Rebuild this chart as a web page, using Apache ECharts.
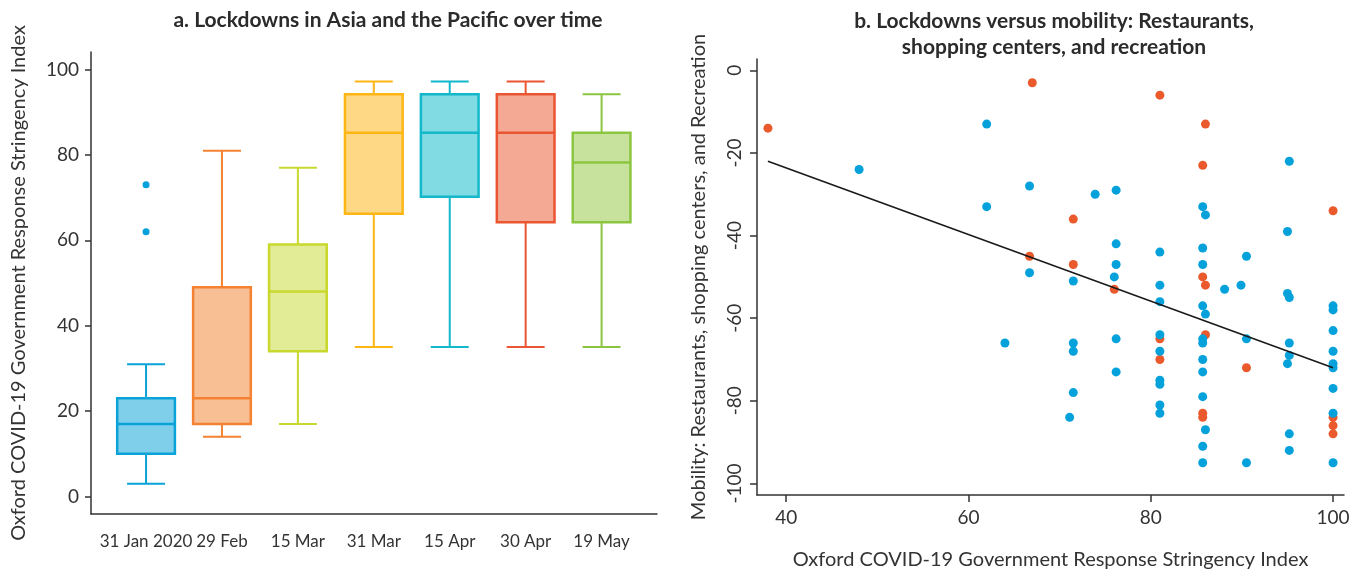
<!DOCTYPE html>
<html lang="en">
<head>
<meta charset="UTF-8">
<title>Lockdowns and mobility</title>
<script src="https://cdn.jsdelivr.net/npm/echarts@6/dist/echarts.min.js"></script>
<style>
  body { margin: 0; background: #fff; }
  #chart { width: 1361px; height: 575px; }
</style>
</head>
<body>
<div id="chart"></div>
<script>
  // panel a: box plot per date
  const dates = ['31 Jan 2020', '29 Feb', '15 Mar', '31 Mar', '15 Apr', '30 Apr', '19 May'];
  const whiskerLow = [3, 14, 17, 35, 35, 35, 35];
  const q1 = [10, 17, 34, 66.2, 70.2, 64.2, 64.2];
  const median = [17, 23, 48, 85.2, 85.2, 85.2, 78.2];
  const q3 = [23, 49, 59, 94.2, 94.2, 94.2, 85.2];
  const whiskerHigh = [31, 81, 77, 97.2, 97.2, 97.2, 94.2];
  const outliers = [[0, 73], [0, 62]];
  const leftTicks = [0, 20, 40, 60, 80, 100];

  // panel b: stringency vs mobility
  const orangePoints = [
    [38, -14], [67, -3], [81, -6], [86, -13], [85.7, -23], [100, -34], [71.5, -36],
    [66.7, -45], [71.5, -47], [76, -53], [85.7, -50], [86, -52], [86, -64], [81, -65],
    [81, -70], [90.5, -72], [85.7, -83], [85.7, -84], [100, -84], [100, -86], [100, -88]
  ];
  const bluePoints = [
    [48, -24], [62, -13], [62, -33], [66.7, -28], [66.7, -49], [64, -66],
    [73.9, -30], [76.2, -29], [76.2, -42], [76.2, -47], [76, -50], [76.2, -65], [76.2, -73],
    [71.5, -51], [71.5, -66], [71.5, -68], [71.5, -78], [71.1, -84],
    [81, -44], [81, -52], [81, -56], [81, -64], [81, -68], [81, -75], [81, -76], [81, -81], [81, -83],
    [85.7, -33], [86, -35], [85.7, -43], [85.7, -47], [85.7, -57], [86, -59], [85.7, -65], [85.7, -66],
    [85.7, -70], [85.7, -73], [85.7, -79], [86, -87], [85.7, -91], [85.7, -95],
    [88.1, -53], [89.9, -52], [90.5, -45], [90.5, -65], [90.5, -95],
    [95.2, -22], [95, -39], [95, -54], [95.2, -55], [95.2, -66], [95.2, -69], [95, -71], [95.2, -88], [95.2, -92],
    [100, -57], [100, -58], [100, -63], [100, -68], [100, -71], [100, -72], [100, -77], [100, -83], [100, -95]
  ];
  const trendLine = [[38, -22], [100, -72]];
  const rightXTicks = [40, 60, 80, 100];
  const rightYTicks = [-100, -80, -60, -40, -20, 0];

  // colours
  const boxFill = ['#80cfea', '#f9bf94', '#e2eb95', '#fed885', '#80dbe3', '#f3a994', '#c7e29d'];
  const boxStroke = ['#0aa3d9', '#f58233', '#c8d82c', '#fdb614', '#13b8cb', '#ea5631', '#8cc540'];
  const blue = '#05a1db';
  const orange = '#ea5a2c';
  const ink = '#333';
  const font = 'Lato';

  const axisLineStyle = { show: true, onZero: false, lineStyle: { color: ink, width: 1.5 } };

  const chart = echarts.init(document.getElementById('chart'));

  function renderBox(params, api) {
    const i = api.value(0);
    const band = api.size([1, 0])[0];
    const half = band * 0.38;
    const cap = band * 0.25;
    const x = api.coord([i, 0])[0];
    const y = k => api.coord([i, api.value(k)])[1];
    const yLow = y(1), yQ1 = y(2), yMed = y(3), yQ3 = y(4), yHigh = y(5);
    const stroke = boxStroke[i];
    const line = (x1, y1, x2, y2) => ({
      type: 'line', shape: { x1, y1, x2, y2 }, style: { stroke, lineWidth: 2 }
    });
    return {
      type: 'group',
      children: [
        line(x, yHigh, x, yQ3),
        line(x, yQ1, x, yLow),
        line(x - cap, yHigh, x + cap, yHigh),
        line(x - cap, yLow, x + cap, yLow),
        {
          type: 'rect',
          shape: { x: x - half, y: yQ3, width: half * 2, height: yQ1 - yQ3 },
          style: { fill: boxFill[i], stroke, lineWidth: 2.5 }
        },
        { type: 'line', shape: { x1: x - half, y1: yMed, x2: x + half, y2: yMed }, style: { stroke, lineWidth: 2.5 } }
      ]
    };
  }

  chart.setOption({
    animation: false,
    textStyle: { fontFamily: font },
    title: [
      {
        text: 'a. Lockdowns in Asia and the Pacific over time',
        left: 383, top: 5, textAlign: 'center',
        textStyle: { fontFamily: font, fontSize: 21, fontWeight: 'bold', color: '#2b2b2b' }
      },
      {
        text: 'b. Lockdowns versus mobility: Restaurants,\nshopping centers, and recreation',
        left: 1049, top: 3, textAlign: 'center',
        textStyle: { fontFamily: font, fontSize: 21, fontWeight: 'bold', color: '#2b2b2b', lineHeight: 26 }
      }
    ],
    grid: [
      { left: 91, top: 52, width: 566, height: 462 },
      { left: 757, top: 59, width: 587, height: 436 }
    ],
    xAxis: [
      {
        gridIndex: 0, type: 'value', min: -0.725, max: 6.73,
        axisLine: axisLineStyle, axisTick: { show: false }, splitLine: { show: false },
        axisLabel: {
          customValues: dates.map((d, i) => i),
          formatter: v => dates[v],
          fontSize: 17, color: ink, margin: 19
        }
      },
      {
        gridIndex: 1, type: 'value', min: 36.8, max: 101.2,
        name: 'Oxford COVID-19 Government Response Stringency Index',
        nameLocation: 'middle', nameGap: 55,
        nameTextStyle: { fontSize: 20, color: ink },
        axisLine: axisLineStyle,
        axisTick: { customValues: rightXTicks, length: 7, lineStyle: { color: ink, width: 1.5 } },
        splitLine: { show: false },
        axisLabel: { customValues: rightXTicks, fontSize: 19, color: ink, margin: 13 }
      }
    ],
    yAxis: [
      {
        gridIndex: 0, type: 'value', min: -4.1, max: 104.1,
        name: 'Oxford COVID-19 Government Response Stringency Index',
        nameLocation: 'middle', nameGap: 62,
        nameTextStyle: { fontSize: 20, color: ink },
        axisLine: axisLineStyle,
        axisTick: { show: true, customValues: leftTicks, length: 6, lineStyle: { color: ink, width: 1.5 } },
        splitLine: { show: false },
        axisLabel: { customValues: leftTicks, fontSize: 19, color: ink, margin: 12 }
      },
      {
        gridIndex: 1, type: 'value', min: -102.8, max: 2.75,
        name: 'Mobility: Restaurants, shopping centers, and Recreation',
        nameLocation: 'middle', nameGap: 48,
        nameTextStyle: { fontSize: 20, color: ink },
        axisLine: axisLineStyle,
        axisTick: { show: true, customValues: rightYTicks, length: 7, lineStyle: { color: ink, width: 1.5 } },
        splitLine: { show: false },
        axisLabel: { customValues: rightYTicks, rotate: 90, fontSize: 19, color: ink, margin: 13 }
      }
    ],
    series: [
      {
        type: 'custom',
        xAxisIndex: 0, yAxisIndex: 0,
        renderItem: renderBox,
        encode: { x: 0, y: [1, 2, 3, 4, 5] },
        data: dates.map((d, i) => [i, whiskerLow[i], q1[i], median[i], q3[i], whiskerHigh[i]])
      },
      {
        type: 'scatter',
        xAxisIndex: 0, yAxisIndex: 0,
        symbolSize: 7,
        itemStyle: { color: blue, opacity: 1 },
        data: outliers
      },
      {
        type: 'scatter',
        xAxisIndex: 1, yAxisIndex: 1,
        symbolSize: 9,
        itemStyle: { color: orange, opacity: 1 },
        data: orangePoints
      },
      {
        type: 'scatter',
        xAxisIndex: 1, yAxisIndex: 1,
        symbolSize: 9,
        itemStyle: { color: blue, opacity: 1 },
        data: bluePoints
      },
      {
        type: 'line',
        xAxisIndex: 1, yAxisIndex: 1,
        symbol: 'none',
        lineStyle: { color: '#1a1a1a', width: 1.6 },
        data: trendLine
      }
    ]
  });
</script>
</body>
</html>
